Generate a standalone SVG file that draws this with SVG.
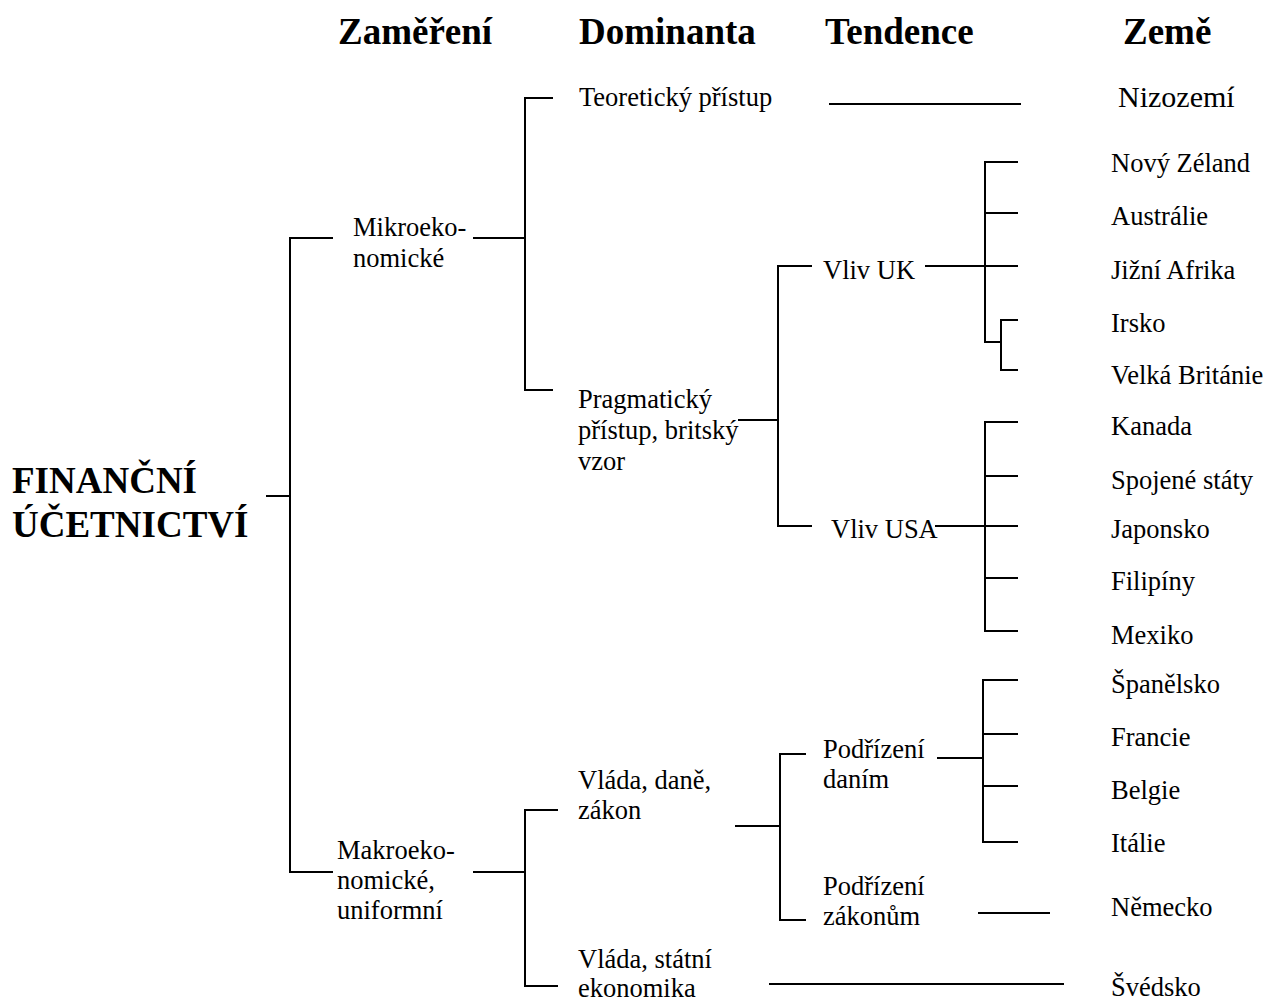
<svg xmlns="http://www.w3.org/2000/svg" width="1268" height="1002" viewBox="0 0 1268 1002">
<style>
text{font-family:"Liberation Serif","Times New Roman",serif;fill:#000}
.h{font-size:37px;font-weight:bold}
.r{font-size:26.5px}
.big{font-size:30px}
.c line{stroke:#000;stroke-width:2}
</style>
<rect width="1268" height="1002" fill="#fff"/>
<g id="headers">
<text class="h" x="338" y="44">Zaměření</text>
<text class="h" x="579" y="44">Dominanta</text>
<text class="h" x="825" y="44">Tendence</text>
<text class="h" x="1123" y="44">Země</text>
</g>
<g id="root"><text class="h" x="12" y="493">FINANČNÍ</text><text class="h" x="12" y="537">ÚČETNICTVÍ</text></g>
<g id="mikro"><text class="r" x="353" y="236">Mikroeko-</text><text class="r" x="353" y="267">nomické</text></g>
<g id="makro"><text class="r" x="337" y="859">Makroeko-</text><text class="r" x="337" y="889">nomické,</text><text class="r" x="337" y="919">uniformní</text></g>
<g id="teoret"><text class="r" x="579" y="106">Teoretický přístup</text></g>
<g id="pragm"><text class="r" x="578" y="408">Pragmatický</text><text class="r" x="578" y="439">přístup, britský</text><text class="r" x="578" y="470">vzor</text></g>
<g id="vlada1"><text class="r" x="578" y="789">Vláda, daně,</text><text class="r" x="578" y="819">zákon</text></g>
<g id="vlada2"><text class="r" x="578" y="968">Vláda, státní</text><text class="r" x="578" y="997">ekonomika</text></g>
<g id="vlivuk"><text class="r" x="823" y="279">Vliv UK</text></g>
<g id="vlivusa"><text class="r" x="831" y="538">Vliv USA</text></g>
<g id="dane"><text class="r" x="823" y="758">Podřízení</text><text class="r" x="823" y="788">daním</text></g>
<g id="zakony"><text class="r" x="823" y="895">Podřízení</text><text class="r" x="823" y="925">zákonům</text></g>
<g id="countries">
<text class="big" x="1118" y="107">Nizozemí</text>
<text class="r" x="1111" y="172">Nový Zéland</text>
<text class="r" x="1111" y="225">Austrálie</text>
<text class="r" x="1111" y="279">Jižní Afrika</text>
<text class="r" x="1111" y="332">Irsko</text>
<text class="r" x="1111" y="384">Velká Británie</text>
<text class="r" x="1111" y="435">Kanada</text>
<text class="r" x="1111" y="489">Spojené státy</text>
<text class="r" x="1111" y="538">Japonsko</text>
<text class="r" x="1111" y="590">Filipíny</text>
<text class="r" x="1111" y="644">Mexiko</text>
<text class="r" x="1111" y="693">Španělsko</text>
<text class="r" x="1111" y="746">Francie</text>
<text class="r" x="1111" y="799">Belgie</text>
<text class="r" x="1111" y="852">Itálie</text>
<text class="r" x="1111" y="916">Německo</text>
<text class="r" x="1111" y="996">Švédsko</text>
</g>
<g id="connectors" class="c">
<line x1="266" y1="496" x2="290" y2="496"/>
<line x1="290" y1="237" x2="290" y2="873"/>
<line x1="289" y1="238" x2="333" y2="238"/>
<line x1="289" y1="872" x2="333" y2="872"/>
<line x1="473" y1="238" x2="525" y2="238"/>
<line x1="525" y1="97" x2="525" y2="391"/>
<line x1="524" y1="98" x2="553" y2="98"/>
<line x1="524" y1="390" x2="553" y2="390"/>
<line x1="829" y1="104" x2="1021" y2="104"/>
<line x1="738" y1="420" x2="778" y2="420"/>
<line x1="778" y1="265" x2="778" y2="527"/>
<line x1="777" y1="266" x2="812" y2="266"/>
<line x1="777" y1="526" x2="812" y2="526"/>
<line x1="925" y1="266" x2="985" y2="266"/>
<line x1="985" y1="161" x2="985" y2="343"/>
<line x1="984" y1="162" x2="1018" y2="162"/>
<line x1="985" y1="213" x2="1018" y2="213"/>
<line x1="985" y1="266" x2="1018" y2="266"/>
<line x1="984" y1="342" x2="1001" y2="342"/>
<line x1="1001" y1="319" x2="1001" y2="371"/>
<line x1="1000" y1="320" x2="1018" y2="320"/>
<line x1="1000" y1="370" x2="1018" y2="370"/>
<line x1="935" y1="526" x2="985" y2="526"/>
<line x1="985" y1="421" x2="985" y2="632"/>
<line x1="984" y1="422" x2="1018" y2="422"/>
<line x1="985" y1="476" x2="1018" y2="476"/>
<line x1="985" y1="526" x2="1018" y2="526"/>
<line x1="985" y1="578" x2="1018" y2="578"/>
<line x1="984" y1="631" x2="1018" y2="631"/>
<line x1="473" y1="872" x2="525" y2="872"/>
<line x1="525" y1="809" x2="525" y2="987"/>
<line x1="524" y1="810" x2="558" y2="810"/>
<line x1="524" y1="986" x2="558" y2="986"/>
<line x1="735" y1="826" x2="780" y2="826"/>
<line x1="780" y1="753" x2="780" y2="921"/>
<line x1="779" y1="754" x2="806" y2="754"/>
<line x1="779" y1="920" x2="806" y2="920"/>
<line x1="937" y1="758" x2="983" y2="758"/>
<line x1="983" y1="679" x2="983" y2="843"/>
<line x1="982" y1="680" x2="1018" y2="680"/>
<line x1="983" y1="734" x2="1018" y2="734"/>
<line x1="983" y1="786" x2="1018" y2="786"/>
<line x1="982" y1="842" x2="1018" y2="842"/>
<line x1="978" y1="913" x2="1050" y2="913"/>
<line x1="769" y1="984" x2="1064" y2="984"/>
</g>
</svg>
